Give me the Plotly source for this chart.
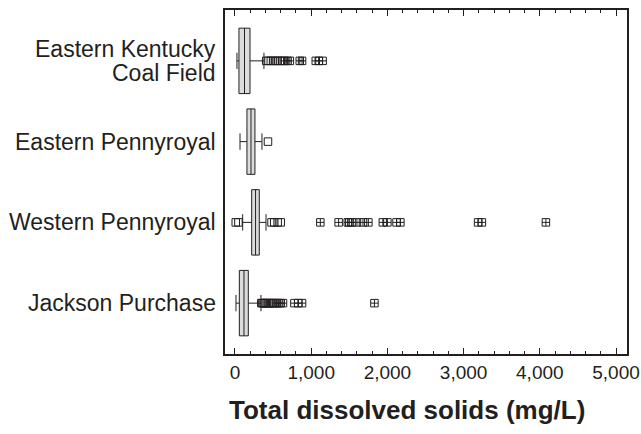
import plotly.graph_objects as go

categories = ["Eastern Kentucky<br>Coal Field", "Eastern Pennyroyal", "Western Pennyroyal", "Jackson Purchase"]
positions = [3, 2, 1, 0]

q1 = [52, 157, 219, 57]
median = [125, 210, 270, 118]
q3 = [197, 262, 319, 175]
lowerfence = [26, 66, 101, 13]
upperfence = [380, 354, 407, 341]

# outside values (plain squares) and far-outside values (crossed squares)
ek_near = [410, 440, 470, 500, 530, 560, 590, 620]
ek_far = [650, 690, 720, 850, 880, 1060, 1100, 1150]
ep_near = [433]
ep_far = []
wp_near = [10, 45, 480, 515, 560, 600]
wp_far = [1120, 1360, 1480, 1500, 1530, 1600, 1680, 1750, 1940, 2000, 2120, 2170, 3190, 3240, 4080]
jp_near = [345, 360, 375, 390, 405, 420, 440, 460, 480, 500, 520]
jp_far = [545, 570, 600, 630, 780, 830, 880, 1830]

near = [ek_near, ep_near, wp_near, jp_near]
far = [ek_far, ep_far, wp_far, jp_far]

ink = "#231f20"
font = "Liberation Sans, Arial, sans-serif"

fig = go.Figure()
fig.add_trace(go.Box(
    y=positions, q1=q1, median=median, q3=q3,
    lowerfence=lowerfence, upperfence=upperfence,
    orientation="h", width=0.81, whiskerwidth=0.25,
    fillcolor="#dcdcdc", line=dict(color=ink, width=1),
    boxpoints=False, showlegend=False, hoverinfo="skip",
))

for pos, vals in zip(positions, near):
    if vals:
        fig.add_trace(go.Scatter(x=vals, y=[pos] * len(vals), mode="markers",
                                 marker=dict(symbol="square-open", size=7.5, color=ink, line=dict(width=1)),
                                 showlegend=False, hoverinfo="skip"))
for pos, vals in zip(positions, far):
    if vals:
        fig.add_trace(go.Scatter(x=vals, y=[pos] * len(vals), mode="markers",
                                 marker=dict(symbol="square-cross-open", size=7.5, color=ink, line=dict(width=1)),
                                 showlegend=False, hoverinfo="skip"))

fig.update_layout(
    width=641, height=434,
    margin=dict(l=225, r=14, t=10, b=80, autoexpand=False),
    paper_bgcolor="white", plot_bgcolor="white",
    font=dict(family=font, color=ink),
    xaxis=dict(range=[-131, 5144], tickvals=[0, 1000, 2000, 3000, 4000, 5000],
               tickformat=",", ticks="inside", ticklen=6, tickwidth=1.2, tickcolor=ink,
               minor=dict(dtick=200, ticks="inside", ticklen=3.5, tickwidth=1.2, tickcolor=ink),
               showline=True, linecolor=ink, linewidth=1.6, mirror="ticks",
               showgrid=False, zeroline=False, automargin=False,
               tickfont=dict(size=19, family=font, color=ink)),
    yaxis=dict(range=[-0.63, 3.63], tickvals=positions, showticklabels=False,
               ticks="", showline=True, linecolor=ink, linewidth=1.6, mirror=True,
               showgrid=False, zeroline=False, automargin=False),
)

# category labels (right-aligned, left of the frame)
for pos, label in zip(positions, categories):
    lines = label.split("<br>")
    n = len(lines)
    for i, line in enumerate(lines):
        fig.add_annotation(text=line, xref="paper", yref="y", x=-0.0175, y=pos,
                           xanchor="right", yanchor="middle", showarrow=False,
                           yshift=(n - 1) * 12 - i * 24,
                           font=dict(size=23, family=font, color=ink))

fig.add_annotation(text="<b>Total dissolved solids (mg/L)</b>", xref="paper", yref="paper",
                   x=0.453, y=-0.163, xanchor="center", yanchor="middle", showarrow=False,
                   font=dict(size=26, family=font, color=ink))

fig.write_html("out.html", config={"displayModeBar": False},
               post_script="document.body.style.margin='0';document.body.style.overflow='hidden';")
